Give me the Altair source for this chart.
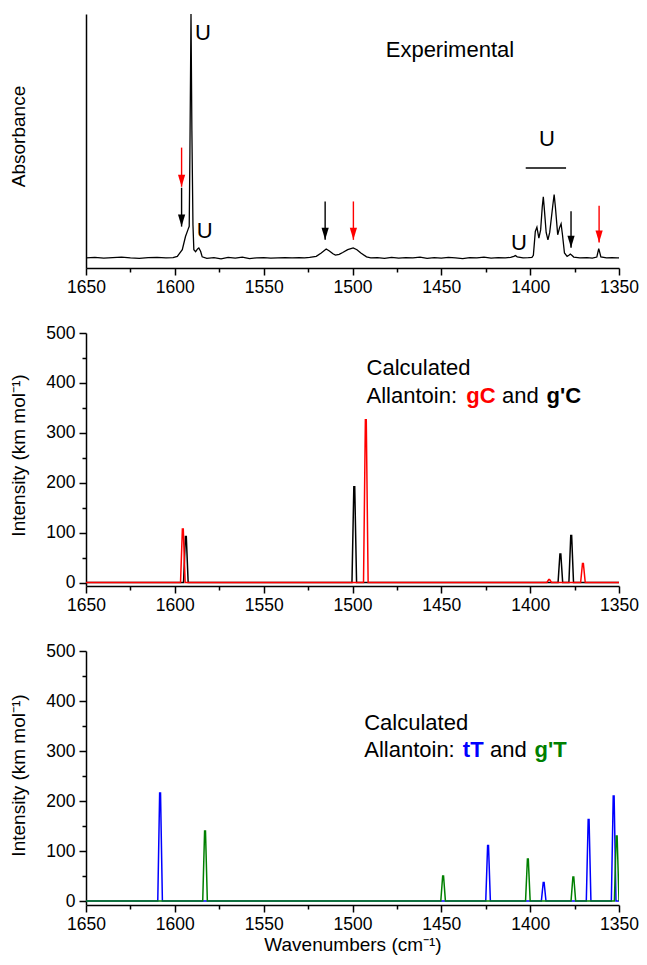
import altair as alt
import pandas as pd

FONT = "Liberation Sans"

# ---------------- Experimental spectrum ----------------
exp_wn = [1650, 1645, 1640, 1635, 1630, 1625, 1620, 1615, 1610, 1605, 1601,
          1598.6, 1595.8, 1594.0, 1592.6, 1591.9, 1591.5, 1590.9, 1590.4, 1589.8,
          1589.3, 1588.3, 1587.2, 1586.5, 1585.5, 1584.6,
          1582, 1578, 1574, 1570, 1566, 1562, 1558, 1554, 1550, 1546, 1542, 1538,
          1534, 1530, 1527, 1524.1, 1520.4, 1517.6, 1514.8, 1513, 1511, 1509.6,
          1507.5, 1505.5, 1502.7, 1499.6, 1497.5, 1495.3, 1492.1, 1489.7,
          1486, 1482, 1478, 1474, 1470, 1466, 1462, 1458, 1454, 1450, 1446, 1442,
          1438, 1434, 1430, 1426, 1422, 1418, 1414, 1411, 1409.2, 1408.3, 1407.3,
          1404, 1401, 1399, 1398.2, 1397.1, 1396.2, 1395.1, 1394.1, 1393.2, 1392.6,
          1392.0, 1391.0, 1390.0, 1389.0, 1387.2, 1386.5, 1385.8, 1384.5, 1383.4,
          1382.6, 1381.8, 1380.7, 1379.2, 1378.2, 1377.4, 1376.4, 1375.5,
          1372, 1368, 1365, 1362.5, 1361.4, 1360.2, 1357, 1354, 1351, 1350]
exp_abs = [0.040, 0.042, 0.039, 0.041, 0.043, 0.040, 0.038, 0.041, 0.042, 0.040, 0.041,
           0.046, 0.072, 0.124, 0.151, 0.164, 0.46, 1.0, 0.54, 0.17,
           0.072, 0.064, 0.075, 0.079, 0.066, 0.044,
           0.038, 0.041, 0.036, 0.042, 0.039, 0.043, 0.037, 0.040, 0.041, 0.039, 0.040, 0.041,
           0.040, 0.041, 0.040, 0.042, 0.046, 0.059, 0.075, 0.067, 0.056, 0.051,
           0.054, 0.061, 0.072, 0.079, 0.072, 0.059, 0.044, 0.040,
           0.041, 0.038, 0.042, 0.039, 0.041, 0.040, 0.043, 0.038, 0.041, 0.039, 0.042, 0.040,
           0.037, 0.041, 0.040, 0.043, 0.039, 0.041, 0.040, 0.042, 0.046, 0.049, 0.044,
           0.040, 0.041, 0.042, 0.050, 0.144, 0.161, 0.118, 0.150, 0.240, 0.280,
           0.230, 0.140, 0.111, 0.140, 0.250, 0.289, 0.240, 0.131, 0.160,
           0.174, 0.130, 0.059, 0.046, 0.050, 0.055, 0.049, 0.043,
           0.040, 0.041, 0.039, 0.043, 0.076, 0.044, 0.040, 0.041, 0.040, 0.040]

# ---------------- Calculated peaks ----------------
gC_pos = [1595.5, 1492.5, 1389.3, 1370.3]
gC_int = [107, 326, 6, 38]
gpC_pos = [1593.8, 1499.0, 1383.0, 1376.9]
gpC_int = [92, 192, 57, 94]
tT_pos = [1608.3, 1423.7, 1392.4, 1367.1, 1353.0]
tT_int = [216, 111, 37, 163, 210]
gpT_pos = [1583.0, 1449.0, 1401.3, 1375.7, 1351.3]
gpT_int = [140, 50, 84, 48, 130]

# ---------------- Annotations (top panel) ----------------
arrow_wn = [1596.2, 1596.2, 1515.4, 1499.5, 1377.0, 1361.2]
arrow_top = [0.474, 0.316, 0.262, 0.262, 0.223, 0.245]
arrow_tip = [0.320, 0.163, 0.111, 0.111, 0.080, 0.100]
arrow_color = ["#ff0000", "#000000", "#000000", "#ff0000", "#000000", "#ff0000"]

u_wn = [1584.2, 1583.2, 1406.3, 1390.5]
u_abs = [0.899, 0.119, 0.072, 0.479]
u_bar_wn = [1402.5]
u_bar_wn2 = [1379.8]
u_bar_abs = [0.394]

exp_label = ["Experimental"]
exp_label_wn = [1481.3]
exp_label_abs = [0.831]

# ---------------- Annotations (calculated panels) ----------------
mid_text = ["Calculated", "Allantoin:", "gC", "and", "g'C"]
mid_text_wn = [1492.1, 1492.1, 1436.0, 1415.9, 1390.8]
mid_text_val = [415, 359, 359, 359, 359]
mid_text_color = ["#000000", "#000000", "#ff0000", "#000000", "#000000"]
mid_text_bold = [False, False, True, False, True]

bot_text = ["Calculated", "Allantoin:", "tT", "and", "g'T"]
bot_text_wn = [1493.4, 1493.4, 1437.9, 1422.6, 1397.5]
bot_text_val = [342, 289, 289, 289, 289]
bot_text_color = ["#000000", "#000000", "#0000ff", "#000000", "#008000"]
bot_text_bold = [False, False, True, False, True]

x_ticks = list(range(1350, 1651, 25))
y_ticks = list(range(0, 501, 50))

RED, BLACK, BLUE, GREEN = "#ff0000", "#000000", "#0000ff", "#008000"
PLOT_W = 533
TITLE_X = -62


def spectrum(pos, inten):
    rows = [(1650.0, 0.0)]
    for p, h in sorted(zip(pos, inten), reverse=True):
        rows += [(p + 1.3, 0.0), (p + 0.25, h), (p - 0.25, h), (p - 1.3, 0.0)]
    rows.append((1350.0, 0.0))
    return pd.DataFrame({"wn": [r[0] for r in rows], "val": [r[1] for r in rows],
                         "i": list(range(len(rows)))})


x_scale = alt.Scale(domain=[1350, 1650], reverse=True, nice=False, zero=False)


def make_x(title=None):
    ax = alt.Axis(values=x_ticks, format="d",
                  labelExpr="datum.value % 50 == 0 ? datum.label : ''",
                  tickSize={"condition": {"test": "datum.value % 50 == 0", "value": 7}, "value": 4},
                  labelPadding=3, labelFlush=False, labelOverlap=False,
                  title=title, titlePadding=3)
    return alt.X("wn:Q", scale=x_scale, axis=ax)


def make_y_calc(domain_min, title_y):
    ax = alt.Axis(values=y_ticks, format="d",
                  labelExpr="datum.value % 100 == 0 ? datum.label : ''",
                  tickSize={"condition": {"test": "datum.value % 100 == 0", "value": 7}, "value": 4},
                  labelPadding=4, labelOverlap=False, labelFlush=False,
                  title="Intensity (km mol⁻¹)", titleX=TITLE_X, titleY=title_y,
                  titleBaseline="alphabetic")
    return alt.Y("val:Q", scale=alt.Scale(domain=[domain_min, 500], nice=False, zero=False), axis=ax)


# ---------------- Top panel ----------------
X_top = make_x(None)
Y_top = alt.Y("val:Q", scale=alt.Scale(domain=[0, 1], nice=False, zero=False),
              axis=alt.Axis(title="Absorbance", ticks=False, labels=False,
                            titleX=TITLE_X, titleY=122, titleBaseline="alphabetic"))

exp_df = pd.DataFrame({"wn": exp_wn, "val": exp_abs, "i": list(range(len(exp_wn)))})
trace = alt.Chart(exp_df).mark_line(color=BLACK, strokeWidth=1.3, clip=True).encode(
    x=X_top, y=Y_top, order="i:Q")

arr_df = pd.DataFrame({"wn": arrow_wn, "val": arrow_top, "val2": arrow_tip, "tip": arrow_tip,
                       "c": arrow_color})
shafts = alt.Chart(arr_df).mark_rule(strokeWidth=1.4).encode(
    x=X_top, y=Y_top, y2="val2:Q", color=alt.Color("c:N", scale=None))
heads = alt.Chart(arr_df).mark_point(shape="M -0.3 -1 L 0.3 -1 L 0 0 Z", size=576,
                                     filled=True, opacity=1, strokeWidth=0).encode(
    x=X_top, y=alt.Y("tip:Q"), color=alt.Color("c:N", scale=None))

u_df = pd.DataFrame({"wn": u_wn, "val": u_abs, "t": ["U"] * len(u_wn)})
u_txt = alt.Chart(u_df).mark_text(font=FONT, fontSize=22, align="center",
                                  baseline="alphabetic", color=BLACK).encode(
    x=X_top, y=Y_top, text="t:N")
bar_df = pd.DataFrame({"wn": u_bar_wn, "wn2": u_bar_wn2, "val": u_bar_abs})
u_bar = alt.Chart(bar_df).mark_rule(strokeWidth=1.5, color=BLACK).encode(
    x=X_top, x2="wn2:Q", y=Y_top)
expl_df = pd.DataFrame({"wn": exp_label_wn, "val": exp_label_abs, "t": exp_label})
exp_txt = alt.Chart(expl_df).mark_text(font=FONT, fontSize=22, align="left",
                                       baseline="alphabetic", color=BLACK).encode(
    x=X_top, y=Y_top, text="t:N")

top = alt.layer(trace, shafts, heads, u_txt, u_bar, exp_txt).properties(width=PLOT_W, height=254)


# ---------------- Calculated panels ----------------
def calc_panel(series, texts, tx, ty, tc, tb, dmin, height, title_y, x_title):
    X = make_x(x_title)
    Y = make_y_calc(dmin, title_y)
    layers = []
    for pos, inten, col in series:
        df = spectrum(pos, inten)
        layers.append(alt.Chart(df).mark_line(color=col, strokeWidth=1.5, clip=True).encode(
            x=X, y=Y, order="i:Q"))
    tdf = pd.DataFrame({"wn": tx, "val": ty, "t": texts, "c": tc, "b": tb})
    for bold in (False, True):
        sub = tdf[tdf["b"] == bold]
        mark = alt.Chart(sub).mark_text(font=FONT, fontSize=22, align="left",
                                        baseline="alphabetic",
                                        fontWeight="bold" if bold else "normal")
        layers.append(mark.encode(x=X, y=Y, text="t:N", color=alt.Color("c:N", scale=None)))
    return alt.layer(*layers).properties(width=PLOT_W, height=height)


mid = calc_panel([(gpC_pos, gpC_int, BLACK), (gC_pos, gC_int, RED)],
                 mid_text, mid_text_wn, mid_text_val, mid_text_color, mid_text_bold,
                 -7, 253, 122, None)
bot = calc_panel([(tT_pos, tT_int, BLUE), (gpT_pos, gpT_int, GREEN)],
                 bot_text, bot_text_wn, bot_text_val, bot_text_color, bot_text_bold,
                 -8, 254, 124, "Wavenumbers (cm⁻¹)")

chart = alt.vconcat(top, mid, bot, spacing=65, bounds="flush").properties(
    padding={"left": 0, "top": 6, "right": 0, "bottom": 0}
).configure_view(stroke=None).configure_axis(
    grid=False, domainColor=BLACK, domainWidth=1.5, tickColor=BLACK, tickWidth=1.5,
    labelFont=FONT, labelFontSize=17.5, labelColor=BLACK,
    titleFont=FONT, titleFontSize=19, titleFontWeight="normal", titleColor=BLACK
)

chart.save("out.html", embed_options={"renderer": "svg", "actions": False})
